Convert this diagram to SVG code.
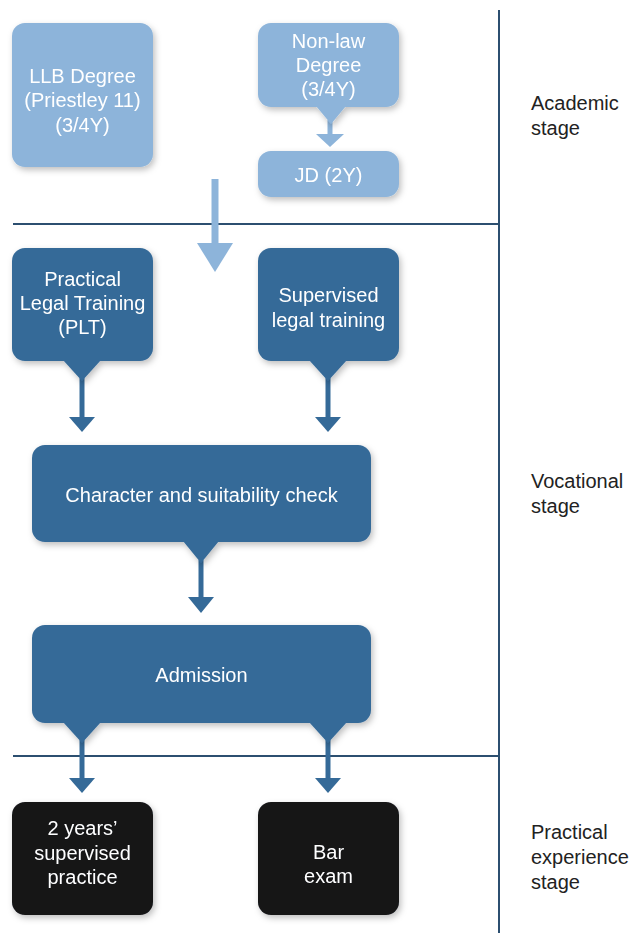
<svg xmlns="http://www.w3.org/2000/svg" width="633" height="933" viewBox="0 0 633 933">
<defs>
<filter id="sh" x="-20%" y="-20%" width="140%" height="150%">
<feDropShadow dx="2" dy="3" stdDeviation="3" flood-color="#000" flood-opacity="0.25"/>
</filter>
</defs>
<style>
.t{font-family:"Liberation Sans",Arial,sans-serif;font-size:20px;fill:#fff;text-anchor:middle}
.s{font-family:"Liberation Sans",Arial,sans-serif;font-size:20px;fill:#222}
.lb{fill:#8db4da}
.db{fill:#356a98}
.bk{fill:#141518}
.rule{stroke:#2c4f70;stroke-width:2;fill:none}
.cd{stroke:#356a98;stroke-width:5;fill:none}
</style>

<g id="rules">
<line class="rule" x1="499" y1="10" x2="499" y2="933"/>
<line class="rule" x1="13" y1="224" x2="499" y2="224"/>
<line class="rule" x1="13" y1="756" x2="499" y2="756"/>
</g>

<g id="stage-labels">
<text class="s" x="531" y="110">Academic</text>
<text class="s" x="531" y="135">stage</text>
<text class="s" x="531" y="488">Vocational</text>
<text class="s" x="531" y="513">stage</text>
<text class="s" x="531" y="839">Practical</text>
<text class="s" x="531" y="864">experience</text>
<text class="s" x="531" y="889">stage</text>
</g>

<g id="connectors">
<line x1="330" y1="120" x2="330" y2="136" stroke="#8db4da" stroke-width="5"/>
<path d="M316,134 L344,134 L330,147 Z" fill="#8db4da"/>
<line x1="215" y1="179" x2="215" y2="245" stroke="#8db4da" stroke-width="7"/>
<path d="M197,243 L233,243 L215,272 Z" fill="#8db4da"/>
<line class="cd" x1="82" y1="378" x2="82" y2="419"/>
<path d="M69,417 L95,417 L82,432 Z" fill="#356a98"/>
<line class="cd" x1="328" y1="378" x2="328" y2="419"/>
<path d="M315,417 L341,417 L328,432 Z" fill="#356a98"/>
<line class="cd" x1="201" y1="560" x2="201" y2="599"/>
<path d="M188,597 L214,597 L201,613 Z" fill="#356a98"/>
<line class="cd" x1="82" y1="740" x2="82" y2="780"/>
<path d="M69,778 L95,778 L82,793 Z" fill="#356a98"/>
<line class="cd" x1="328" y1="740" x2="328" y2="780"/>
<path d="M315,778 L341,778 L328,793 Z" fill="#356a98"/>
</g>

<g id="llb" filter="url(#sh)">
<rect class="lb" x="12" y="23" width="141" height="144" rx="13"/>
<text class="t" x="82.5" y="83">LLB Degree</text>
<text class="t" x="82.5" y="107">(Priestley 11)</text>
<text class="t" x="82.5" y="132">(3/4Y)</text>
</g>

<g id="nonlaw" filter="url(#sh)">
<rect class="lb" x="258" y="23" width="141" height="84" rx="13"/>
<path class="lb" d="M316,106 L346,106 L331,124 Z"/>
<text class="t" x="328.5" y="48">Non-law</text>
<text class="t" x="328.5" y="72">Degree</text>
<text class="t" x="328.5" y="96">(3/4Y)</text>
</g>

<g id="jd" filter="url(#sh)">
<rect class="lb" x="258" y="151" width="141" height="46" rx="13"/>
<text class="t" x="328.5" y="182">JD (2Y)</text>
</g>

<g id="plt" filter="url(#sh)">
<rect class="db" x="12" y="248" width="141" height="113" rx="13"/>
<path class="db" d="M63,360 L101,360 L82,381 Z"/>
<text class="t" x="82.5" y="286">Practical</text>
<text class="t" x="82.5" y="310">Legal Training</text>
<text class="t" x="82.5" y="334">(PLT)</text>
</g>

<g id="supervised" filter="url(#sh)">
<rect class="db" x="258" y="248" width="141" height="113" rx="13"/>
<path class="db" d="M309,360 L347,360 L328,381 Z"/>
<text class="t" x="328.5" y="302">Supervised</text>
<text class="t" x="328.5" y="327">legal training</text>
</g>

<g id="character" filter="url(#sh)">
<rect class="db" x="32" y="445" width="339" height="97" rx="13"/>
<path class="db" d="M183,541 L219,541 L201,563 Z"/>
<text class="t" x="201.5" y="502">Character and suitability check</text>
</g>

<g id="admission" filter="url(#sh)">
<rect class="db" x="32" y="625" width="339" height="98" rx="13"/>
<path class="db" d="M63,722 L101,722 L82,743 Z"/>
<path class="db" d="M309,722 L347,722 L328,743 Z"/>
<text class="t" x="201.5" y="682">Admission</text>
</g>

<g id="practice" filter="url(#sh)">
<rect class="bk" x="12" y="802" width="141" height="113" rx="13"/>
<text class="t" x="82.5" y="835">2 years’</text>
<text class="t" x="82.5" y="860">supervised</text>
<text class="t" x="82.5" y="884">practice</text>
</g>

<g id="bar" filter="url(#sh)">
<rect class="bk" x="258" y="802" width="141" height="113" rx="13"/>
<text class="t" x="328.5" y="859">Bar</text>
<text class="t" x="328.5" y="883">exam</text>
</g>
</svg>
